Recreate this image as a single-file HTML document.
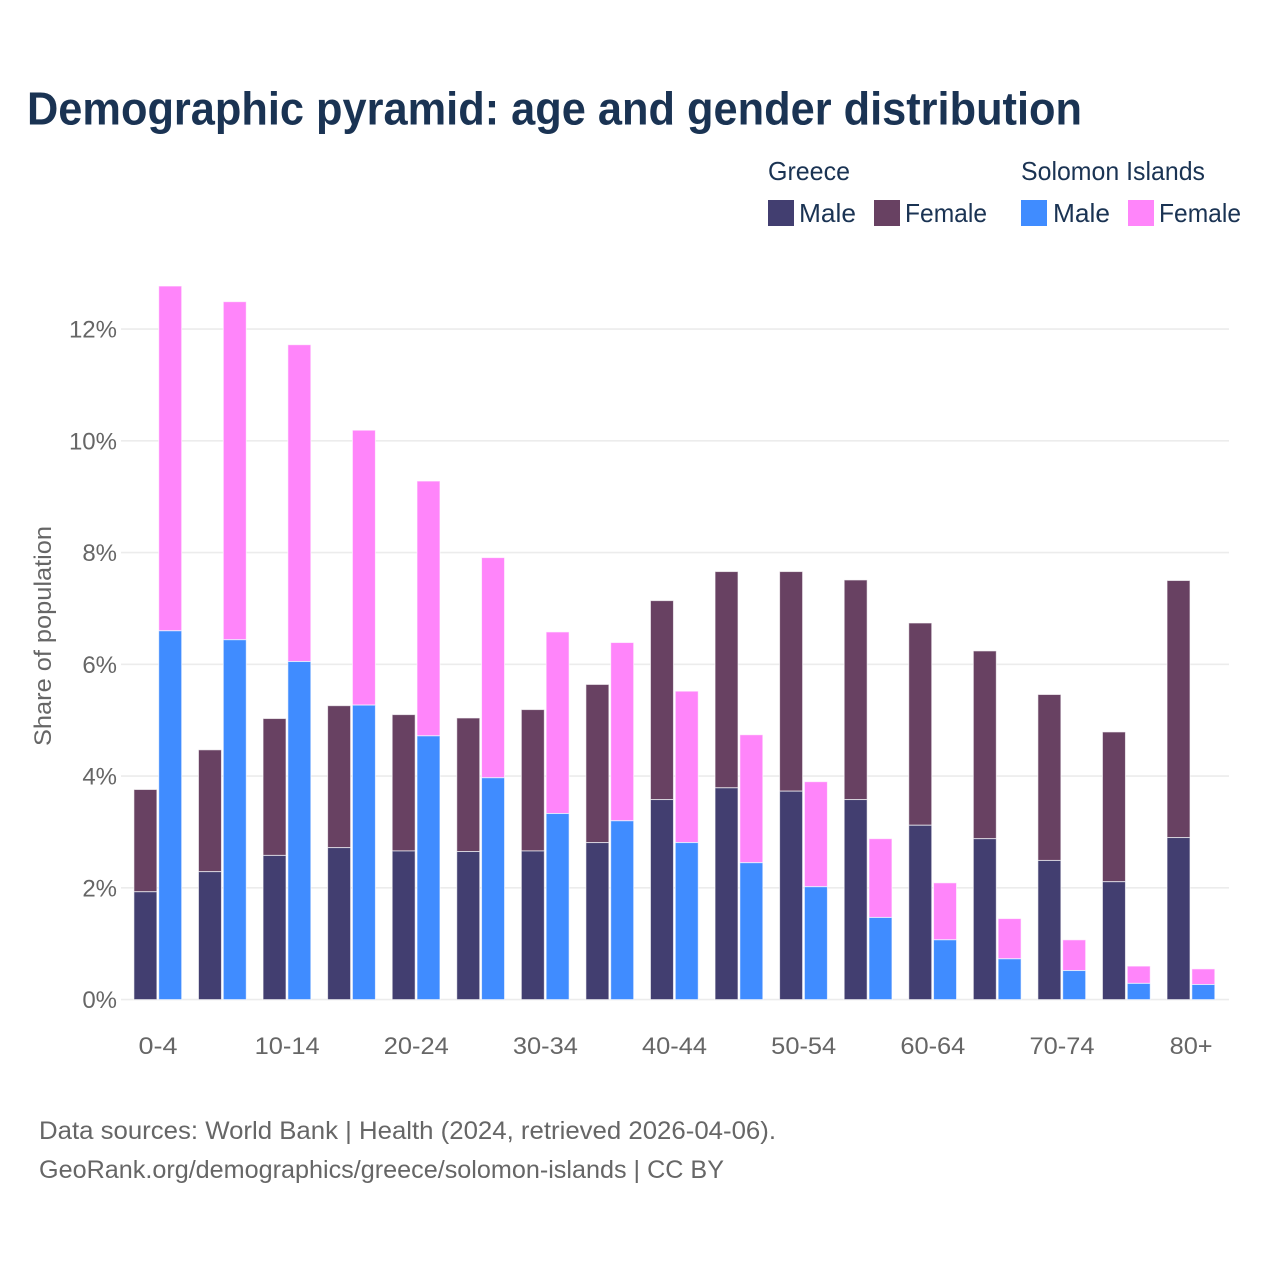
<!DOCTYPE html>
<html lang="en">
<head>
<meta charset="utf-8">
<title>Demographic pyramid: age and gender distribution</title>
<style>
html,body{margin:0;padding:0;background:#fff;}
svg{display:block;font-family:"Liberation Sans",sans-serif;}
</style>
</head>
<body>
<svg id="chart" xmlns="http://www.w3.org/2000/svg" width="1280" height="1280" viewBox="0 0 1280 1280">
  <rect x="0" y="0" width="1280" height="1280" fill="#ffffff"/>
  <text x="27" y="124.5" font-size="46" font-weight="700" fill="#1a3353" textLength="1055" lengthAdjust="spacingAndGlyphs">Demographic pyramid: age and gender distribution</text>

  <g font-size="26" fill="#1a3353">
    <text x="768" y="180" textLength="82" lengthAdjust="spacingAndGlyphs">Greece</text>
    <text x="1021" y="180" textLength="184" lengthAdjust="spacingAndGlyphs">Solomon Islands</text>
    <rect x="768" y="200" width="26" height="26" fill="#423e70"/>
    <text x="799" y="222" textLength="57" lengthAdjust="spacingAndGlyphs">Male</text>
    <rect x="874" y="200" width="26" height="26" fill="#684162"/>
    <text x="905" y="222" textLength="82" lengthAdjust="spacingAndGlyphs">Female</text>
    <rect x="1021" y="200" width="26" height="26" fill="#408cff"/>
    <text x="1053" y="222" textLength="57" lengthAdjust="spacingAndGlyphs">Male</text>
    <rect x="1128" y="200" width="26" height="26" fill="#ff85fa"/>
    <text x="1159" y="222" textLength="82" lengthAdjust="spacingAndGlyphs">Female</text>
  </g>

  <g id="grid"></g>
  <g id="bars"></g>
  <g id="yticks"></g>
  <g id="xticks"></g>

  <text transform="translate(51,636) rotate(-90)" text-anchor="middle" font-size="24" fill="#666666" textLength="220" lengthAdjust="spacingAndGlyphs">Share of population</text>

  <text x="39" y="1139" font-size="25" fill="#666666" textLength="737" lengthAdjust="spacingAndGlyphs">Data sources: World Bank | Health (2024, retrieved 2026-04-06).</text>
  <text x="39" y="1178" font-size="25" fill="#666666" textLength="685" lengthAdjust="spacingAndGlyphs">GeoRank.org/demographics/greece/solomon-islands | CC BY</text>
</svg>
<script>
const ageGroups = ["0-4","5-9","10-14","15-19","20-24","25-29","30-34","35-39","40-44","45-49","50-54","55-59","60-64","65-69","70-74","75-79","80+"];
const xLabels = ["0-4","","10-14","","20-24","","30-34","","40-44","","50-54","","60-64","","70-74","","80+"];
const greeceMale = [1.93,2.29,2.58,2.72,2.66,2.65,2.66,2.81,3.58,3.79,3.73,3.58,3.12,2.88,2.49,2.11,2.90];
const greeceFemale = [1.83,2.18,2.45,2.54,2.44,2.39,2.53,2.83,3.56,3.87,3.93,3.93,3.62,3.36,2.97,2.68,4.60];
const solomonMale = [6.60,6.44,6.05,5.27,4.72,3.97,3.33,3.20,2.81,2.45,2.02,1.47,1.07,0.73,0.52,0.29,0.27];
const solomonFemale = [6.17,6.05,5.67,4.92,4.56,3.94,3.25,3.19,2.71,2.29,1.88,1.41,1.02,0.72,0.55,0.31,0.28];
const yTickValues = [0,2,4,6,8,10,12];
const yTickLabels = ["0%","2%","4%","6%","8%","10%","12%"];

const NS = "http://www.w3.org/2000/svg";
const yScale = v => 999.6 - v * 55.88;
const xCenter = i => 157.8 + i * 64.57;
const barWidth = 23;
const barGap = 0.9;

function makeRect(parent, x, y, w, h, fill, name) {
  const r = document.createElementNS(NS, "rect");
  r.setAttribute("x", x);
  r.setAttribute("y", y);
  r.setAttribute("width", w);
  r.setAttribute("height", h);
  r.setAttribute("fill", fill);
  r.setAttribute("stroke", "#ffffff");
  r.setAttribute("stroke-opacity", "0.65");
  r.setAttribute("stroke-width", "1");
  
  
  parent.appendChild(r);
}

const gridG = document.getElementById("grid");
const yTicksG = document.getElementById("yticks");
yTickValues.forEach((v, i) => {
  const l = document.createElementNS(NS, "line");
  l.setAttribute("x1", 121);
  l.setAttribute("x2", 1229);
  l.setAttribute("y1", yScale(v));
  l.setAttribute("y2", yScale(v));
  l.setAttribute("stroke", "#ececec");
  l.setAttribute("stroke-width", "1.6");
  
  
  gridG.appendChild(l);
  const t = document.createElementNS(NS, "text");
  t.setAttribute("x", 117);
  t.setAttribute("y", yScale(v) + 8.5);
  t.setAttribute("text-anchor", "end");
  t.setAttribute("font-size", "24");
  t.setAttribute("fill", "#666666");
  
  
  t.textContent = yTickLabels[i];
  yTicksG.appendChild(t);
});

const barsG = document.getElementById("bars");
ageGroups.forEach((age, i) => {
  const cx = xCenter(i);
  const xG = cx - barGap - barWidth;
  const xS = cx + barGap;
  const base = yScale(0);
  const gm = yScale(greeceMale[i]);
  const gf = yScale(greeceMale[i] + greeceFemale[i]);
  const sm = yScale(solomonMale[i]);
  const sf = yScale(solomonMale[i] + solomonFemale[i]);
  makeRect(barsG, xG, gf, barWidth, gm - gf, "#684162", "bar-greece-female-" + age);
  makeRect(barsG, xG, gm, barWidth, base - gm, "#423e70", "bar-greece-male-" + age);
  makeRect(barsG, xS, sf, barWidth, sm - sf, "#ff85fa", "bar-solomon-female-" + age);
  makeRect(barsG, xS, sm, barWidth, base - sm, "#408cff", "bar-solomon-male-" + age);
});

const xTicksG = document.getElementById("xticks");
xLabels.forEach((label, i) => {
  if (!label) return;
  const t = document.createElementNS(NS, "text");
  t.setAttribute("x", xCenter(i) + 0.2);
  t.setAttribute("y", 1054);
  t.setAttribute("text-anchor", "middle");
  t.setAttribute("font-size", "24");
  t.setAttribute("fill", "#666666");
  t.setAttribute("textLength", label.length * 13 + (label.endsWith("+") ? 4 : 0));
  t.setAttribute("lengthAdjust", "spacingAndGlyphs");
  
  
  t.textContent = label;
  xTicksG.appendChild(t);
});
</script>
</body>
</html>
